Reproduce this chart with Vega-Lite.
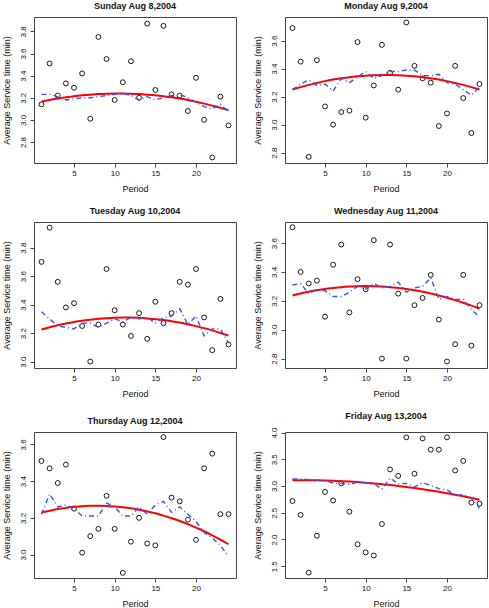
{
"$schema": "https://vega.github.io/schema/vega-lite/v6.json",
"padding": {"left": 1, "top": 1, "right": 0, "bottom": 0},
"background": "white",
"config": {
  "view": {"stroke": "#444", "strokeWidth": 1},
  "axis": {"grid": false, "domain": false, "tickColor": "#444", "tickSize": 4, "labelFont": "Liberation Sans", "labelFontSize": 8, "labelColor": "#111", "titleFont": "Liberation Sans", "titleFontSize": 9, "titleFontWeight": "normal", "titleColor": "#111"},
  "axisX": {"labelPadding": 2, "titlePadding": 7},
  "axisY": {"labelPadding": 3, "titlePadding": 8},
  "title": {"font": "Liberation Sans", "fontSize": 9, "fontWeight": "bold", "color": "#111", "offset": 6, "frame": "group"}
},
"data": {"values": [
{"day":"Sun","period":1,"value":3.14,"fit":3.166,"smooth":3.23},
{"day":"Sun","period":2,"value":3.51,"fit":3.180,"smooth":3.23},
{"day":"Sun","period":3,"value":3.22,"fit":3.193,"smooth":3.21},
{"day":"Sun","period":4,"value":3.33,"fit":3.204,"smooth":3.18},
{"day":"Sun","period":5,"value":3.29,"fit":3.214,"smooth":3.19},
{"day":"Sun","period":6,"value":3.42,"fit":3.222,"smooth":3.20},
{"day":"Sun","period":7,"value":3.01,"fit":3.228,"smooth":3.20},
{"day":"Sun","period":8,"value":3.75,"fit":3.233,"smooth":3.21},
{"day":"Sun","period":9,"value":3.55,"fit":3.236,"smooth":3.22},
{"day":"Sun","period":10,"value":3.18,"fit":3.238,"smooth":3.23},
{"day":"Sun","period":11,"value":3.34,"fit":3.238,"smooth":3.24},
{"day":"Sun","period":12,"value":3.53,"fit":3.236,"smooth":3.22},
{"day":"Sun","period":13,"value":3.20,"fit":3.233,"smooth":3.18},
{"day":"Sun","period":14,"value":3.87,"fit":3.228,"smooth":3.21},
{"day":"Sun","period":15,"value":3.27,"fit":3.222,"smooth":3.18},
{"day":"Sun","period":16,"value":3.85,"fit":3.214,"smooth":3.20},
{"day":"Sun","period":17,"value":3.23,"fit":3.204,"smooth":3.22},
{"day":"Sun","period":18,"value":3.22,"fit":3.193,"smooth":3.23},
{"day":"Sun","period":19,"value":3.08,"fit":3.180,"smooth":3.20},
{"day":"Sun","period":20,"value":3.38,"fit":3.163,"smooth":3.16},
{"day":"Sun","period":21,"value":3.00,"fit":3.147,"smooth":3.12},
{"day":"Sun","period":22,"value":2.66,"fit":3.129,"smooth":3.10},
{"day":"Sun","period":23,"value":3.21,"fit":3.110,"smooth":3.14},
{"day":"Sun","period":24,"value":2.95,"fit":3.088,"smooth":3.07},
{"day":"Mon","period":1,"value":3.69,"fit":3.251,"smooth":3.25},
{"day":"Mon","period":2,"value":3.45,"fit":3.268,"smooth":3.29},
{"day":"Mon","period":3,"value":2.77,"fit":3.284,"smooth":3.32},
{"day":"Mon","period":4,"value":3.46,"fit":3.298,"smooth":3.28},
{"day":"Mon","period":5,"value":3.13,"fit":3.311,"smooth":3.29},
{"day":"Mon","period":6,"value":3.00,"fit":3.322,"smooth":3.24},
{"day":"Mon","period":7,"value":3.09,"fit":3.331,"smooth":3.33},
{"day":"Mon","period":8,"value":3.10,"fit":3.339,"smooth":3.30},
{"day":"Mon","period":9,"value":3.59,"fit":3.345,"smooth":3.34},
{"day":"Mon","period":10,"value":3.05,"fit":3.350,"smooth":3.38},
{"day":"Mon","period":11,"value":3.28,"fit":3.353,"smooth":3.33},
{"day":"Mon","period":12,"value":3.57,"fit":3.355,"smooth":3.35},
{"day":"Mon","period":13,"value":3.37,"fit":3.355,"smooth":3.38},
{"day":"Mon","period":14,"value":3.25,"fit":3.353,"smooth":3.38},
{"day":"Mon","period":15,"value":3.73,"fit":3.350,"smooth":3.39},
{"day":"Mon","period":16,"value":3.42,"fit":3.345,"smooth":3.39},
{"day":"Mon","period":17,"value":3.33,"fit":3.339,"smooth":3.35},
{"day":"Mon","period":18,"value":3.30,"fit":3.331,"smooth":3.35},
{"day":"Mon","period":19,"value":2.99,"fit":3.322,"smooth":3.36},
{"day":"Mon","period":20,"value":3.08,"fit":3.311,"smooth":3.30},
{"day":"Mon","period":21,"value":3.42,"fit":3.298,"smooth":3.29},
{"day":"Mon","period":22,"value":3.19,"fit":3.284,"smooth":3.25},
{"day":"Mon","period":23,"value":2.94,"fit":3.268,"smooth":3.21},
{"day":"Mon","period":24,"value":3.29,"fit":3.251,"smooth":3.27},
{"day":"Tue","period":1,"value":3.70,"fit":3.225,"smooth":3.35},
{"day":"Tue","period":2,"value":3.94,"fit":3.241,"smooth":3.30},
{"day":"Tue","period":3,"value":3.56,"fit":3.255,"smooth":3.25},
{"day":"Tue","period":4,"value":3.38,"fit":3.267,"smooth":3.24},
{"day":"Tue","period":5,"value":3.41,"fit":3.278,"smooth":3.23},
{"day":"Tue","period":6,"value":3.25,"fit":3.287,"smooth":3.27},
{"day":"Tue","period":7,"value":3.00,"fit":3.294,"smooth":3.27},
{"day":"Tue","period":8,"value":3.26,"fit":3.300,"smooth":3.24},
{"day":"Tue","period":9,"value":3.65,"fit":3.305,"smooth":3.27},
{"day":"Tue","period":10,"value":3.36,"fit":3.308,"smooth":3.30},
{"day":"Tue","period":11,"value":3.26,"fit":3.309,"smooth":3.28},
{"day":"Tue","period":12,"value":3.18,"fit":3.309,"smooth":3.31},
{"day":"Tue","period":13,"value":3.34,"fit":3.307,"smooth":3.30},
{"day":"Tue","period":14,"value":3.16,"fit":3.303,"smooth":3.31},
{"day":"Tue","period":15,"value":3.42,"fit":3.298,"smooth":3.27},
{"day":"Tue","period":16,"value":3.27,"fit":3.292,"smooth":3.31},
{"day":"Tue","period":17,"value":3.34,"fit":3.283,"smooth":3.32},
{"day":"Tue","period":18,"value":3.56,"fit":3.274,"smooth":3.37},
{"day":"Tue","period":19,"value":3.54,"fit":3.262,"smooth":3.26},
{"day":"Tue","period":20,"value":3.65,"fit":3.249,"smooth":3.32},
{"day":"Tue","period":21,"value":3.31,"fit":3.235,"smooth":3.18},
{"day":"Tue","period":22,"value":3.08,"fit":3.219,"smooth":3.23},
{"day":"Tue","period":23,"value":3.44,"fit":3.201,"smooth":3.23},
{"day":"Tue","period":24,"value":3.12,"fit":3.182,"smooth":3.13},
{"day":"Wed","period":1,"value":3.71,"fit":3.237,"smooth":3.31},
{"day":"Wed","period":2,"value":3.40,"fit":3.251,"smooth":3.32},
{"day":"Wed","period":3,"value":3.32,"fit":3.263,"smooth":3.25},
{"day":"Wed","period":4,"value":3.34,"fit":3.273,"smooth":3.28},
{"day":"Wed","period":5,"value":3.09,"fit":3.282,"smooth":3.27},
{"day":"Wed","period":6,"value":3.45,"fit":3.289,"smooth":3.23},
{"day":"Wed","period":7,"value":3.59,"fit":3.295,"smooth":3.23},
{"day":"Wed","period":8,"value":3.12,"fit":3.299,"smooth":3.26},
{"day":"Wed","period":9,"value":3.35,"fit":3.301,"smooth":3.30},
{"day":"Wed","period":10,"value":3.28,"fit":3.302,"smooth":3.28},
{"day":"Wed","period":11,"value":3.62,"fit":3.301,"smooth":3.32},
{"day":"Wed","period":12,"value":2.80,"fit":3.299,"smooth":3.29},
{"day":"Wed","period":13,"value":3.59,"fit":3.295,"smooth":3.30},
{"day":"Wed","period":14,"value":3.25,"fit":3.289,"smooth":3.33},
{"day":"Wed","period":15,"value":2.80,"fit":3.282,"smooth":3.26},
{"day":"Wed","period":16,"value":3.17,"fit":3.273,"smooth":3.29},
{"day":"Wed","period":17,"value":3.22,"fit":3.263,"smooth":3.30},
{"day":"Wed","period":18,"value":3.38,"fit":3.251,"smooth":3.36},
{"day":"Wed","period":19,"value":3.07,"fit":3.237,"smooth":3.21},
{"day":"Wed","period":20,"value":2.78,"fit":3.222,"smooth":3.23},
{"day":"Wed","period":21,"value":2.90,"fit":3.205,"smooth":3.21},
{"day":"Wed","period":22,"value":3.38,"fit":3.187,"smooth":3.21},
{"day":"Wed","period":23,"value":2.89,"fit":3.167,"smooth":3.14},
{"day":"Wed","period":24,"value":3.17,"fit":3.145,"smooth":3.09},
{"day":"Thu","period":1,"value":3.51,"fit":3.229,"smooth":3.22},
{"day":"Thu","period":2,"value":3.47,"fit":3.239,"smooth":3.33},
{"day":"Thu","period":3,"value":3.39,"fit":3.248,"smooth":3.26},
{"day":"Thu","period":4,"value":3.49,"fit":3.254,"smooth":3.27},
{"day":"Thu","period":5,"value":3.25,"fit":3.260,"smooth":3.25},
{"day":"Thu","period":6,"value":3.01,"fit":3.263,"smooth":3.21},
{"day":"Thu","period":7,"value":3.10,"fit":3.266,"smooth":3.21},
{"day":"Thu","period":8,"value":3.14,"fit":3.266,"smooth":3.21},
{"day":"Thu","period":9,"value":3.32,"fit":3.265,"smooth":3.28},
{"day":"Thu","period":10,"value":3.14,"fit":3.262,"smooth":3.26},
{"day":"Thu","period":11,"value":2.90,"fit":3.258,"smooth":3.21},
{"day":"Thu","period":12,"value":3.07,"fit":3.252,"smooth":3.21},
{"day":"Thu","period":13,"value":3.20,"fit":3.244,"smooth":3.26},
{"day":"Thu","period":14,"value":3.06,"fit":3.235,"smooth":3.22},
{"day":"Thu","period":15,"value":3.05,"fit":3.225,"smooth":3.27},
{"day":"Thu","period":16,"value":3.64,"fit":3.212,"smooth":3.29},
{"day":"Thu","period":17,"value":3.31,"fit":3.198,"smooth":3.23},
{"day":"Thu","period":18,"value":3.29,"fit":3.183,"smooth":3.26},
{"day":"Thu","period":19,"value":3.19,"fit":3.166,"smooth":3.22},
{"day":"Thu","period":20,"value":3.08,"fit":3.147,"smooth":3.18},
{"day":"Thu","period":21,"value":3.47,"fit":3.127,"smooth":3.12},
{"day":"Thu","period":22,"value":3.55,"fit":3.105,"smooth":3.09},
{"day":"Thu","period":23,"value":3.22,"fit":3.081,"smooth":3.05},
{"day":"Thu","period":24,"value":3.22,"fit":3.056,"smooth":2.99},
{"day":"Fri","period":1,"value":2.72,"fit":3.109,"smooth":3.13},
{"day":"Fri","period":2,"value":2.46,"fit":3.110,"smooth":3.13},
{"day":"Fri","period":3,"value":1.38,"fit":3.109,"smooth":3.12},
{"day":"Fri","period":4,"value":2.07,"fit":3.107,"smooth":3.11},
{"day":"Fri","period":5,"value":2.89,"fit":3.103,"smooth":3.09},
{"day":"Fri","period":6,"value":2.73,"fit":3.098,"smooth":3.06},
{"day":"Fri","period":7,"value":3.05,"fit":3.091,"smooth":3.05},
{"day":"Fri","period":8,"value":2.52,"fit":3.083,"smooth":3.03},
{"day":"Fri","period":9,"value":1.91,"fit":3.073,"smooth":3.07},
{"day":"Fri","period":10,"value":1.76,"fit":3.062,"smooth":3.06},
{"day":"Fri","period":11,"value":1.70,"fit":3.049,"smooth":3.05},
{"day":"Fri","period":12,"value":2.29,"fit":3.034,"smooth":2.94},
{"day":"Fri","period":13,"value":3.31,"fit":3.019,"smooth":3.15},
{"day":"Fri","period":14,"value":3.19,"fit":3.001,"smooth":3.04},
{"day":"Fri","period":15,"value":3.91,"fit":2.982,"smooth":3.05},
{"day":"Fri","period":16,"value":3.23,"fit":2.962,"smooth":2.98},
{"day":"Fri","period":17,"value":3.89,"fit":2.940,"smooth":3.06},
{"day":"Fri","period":18,"value":3.68,"fit":2.917,"smooth":3.01},
{"day":"Fri","period":19,"value":3.68,"fit":2.892,"smooth":2.95},
{"day":"Fri","period":20,"value":3.91,"fit":2.865,"smooth":2.93},
{"day":"Fri","period":21,"value":3.29,"fit":2.837,"smooth":2.82},
{"day":"Fri","period":22,"value":3.47,"fit":2.808,"smooth":2.84},
{"day":"Fri","period":23,"value":2.69,"fit":2.777,"smooth":2.78},
{"day":"Fri","period":24,"value":2.67,"fit":2.744,"smooth":2.59}
]},
"columns": 2,
"spacing": {"row": 12, "column": 15},
"concat": [
{"title": "Sunday Aug 8,2004", "width": 202, "height": 146,
 "transform": [{"filter": "datum.day === 'Sun'"}],
 "encoding": {"x": {"field": "period", "type": "quantitative", "title": "Period", "scale": {"domain": [0.08, 24.92], "nice": false, "zero": false}, "axis": {"values": [5, 10, 15, 20], "labelOverlap": false, "labelFlush": false}}},
 "layer": [
  {"mark": {"type": "point", "shape": "circle", "filled": false, "color": "black", "size": 24, "strokeWidth": 0.9, "opacity": 1},
   "encoding": {"y": {"field": "value", "type": "quantitative", "title": "Average Service time (min)", "scale": {"domain": [2.61, 3.93], "nice": false, "zero": false}, "axis": {"values": [2.8, 3.0, 3.2, 3.4, 3.6, 3.8], "format": ".1f", "labelOverlap": false, "labelFlush": false, "labelAngle": -90, "labelAlign": "center", "labelBaseline": "bottom"}}}},
  {"mark": {"type": "line", "color": "#ff0000", "strokeWidth": 2, "interpolate": "monotone"},
   "encoding": {"y": {"field": "fit", "type": "quantitative", "title": "Average Service time (min)", "axis": {"values": [2.8, 3.0, 3.2, 3.4, 3.6, 3.8], "format": ".1f", "labelOverlap": false, "labelFlush": false, "labelAngle": -90, "labelAlign": "center", "labelBaseline": "bottom"}}}},
  {"mark": {"type": "line", "color": "#2f55ff", "strokeWidth": 1.4, "strokeDash": [5, 3, 1, 3]},
   "encoding": {"y": {"field": "smooth", "type": "quantitative", "title": "Average Service time (min)", "axis": {"values": [2.8, 3.0, 3.2, 3.4, 3.6, 3.8], "format": ".1f", "labelOverlap": false, "labelFlush": false, "labelAngle": -90, "labelAlign": "center", "labelBaseline": "bottom"}}}}
 ]},
{"title": "Monday Aug 9,2004", "width": 202, "height": 146,
 "transform": [{"filter": "datum.day === 'Mon'"}],
 "encoding": {"x": {"field": "period", "type": "quantitative", "title": "Period", "scale": {"domain": [0.08, 24.92], "nice": false, "zero": false}, "axis": {"values": [5, 10, 15, 20], "labelOverlap": false, "labelFlush": false}}},
 "layer": [
  {"mark": {"type": "point", "shape": "circle", "filled": false, "color": "black", "size": 24, "strokeWidth": 0.9, "opacity": 1},
   "encoding": {"y": {"field": "value", "type": "quantitative", "title": "Average Service time (min)", "scale": {"domain": [2.726, 3.769], "nice": false, "zero": false}, "axis": {"values": [2.8, 3.0, 3.2, 3.4, 3.6], "format": ".1f", "labelOverlap": false, "labelFlush": false, "labelAngle": -90, "labelAlign": "center", "labelBaseline": "bottom"}}}},
  {"mark": {"type": "line", "color": "#ff0000", "strokeWidth": 2, "interpolate": "monotone"},
   "encoding": {"y": {"field": "fit", "type": "quantitative", "title": "Average Service time (min)", "axis": {"values": [2.8, 3.0, 3.2, 3.4, 3.6], "format": ".1f", "labelOverlap": false, "labelFlush": false, "labelAngle": -90, "labelAlign": "center", "labelBaseline": "bottom"}}}},
  {"mark": {"type": "line", "color": "#2f55ff", "strokeWidth": 1.4, "strokeDash": [5, 3, 1, 3]},
   "encoding": {"y": {"field": "smooth", "type": "quantitative", "title": "Average Service time (min)", "axis": {"values": [2.8, 3.0, 3.2, 3.4, 3.6], "format": ".1f", "labelOverlap": false, "labelFlush": false, "labelAngle": -90, "labelAlign": "center", "labelBaseline": "bottom"}}}}
 ]},
{"title": "Tuesday Aug 10,2004", "width": 202, "height": 146,
 "transform": [{"filter": "datum.day === 'Tue'"}],
 "encoding": {"x": {"field": "period", "type": "quantitative", "title": "Period", "scale": {"domain": [0.08, 24.92], "nice": false, "zero": false}, "axis": {"values": [5, 10, 15, 20], "labelOverlap": false, "labelFlush": false}}},
 "layer": [
  {"mark": {"type": "point", "shape": "circle", "filled": false, "color": "black", "size": 24, "strokeWidth": 0.9, "opacity": 1},
   "encoding": {"y": {"field": "value", "type": "quantitative", "title": "Average Service time (min)", "scale": {"domain": [2.955, 3.98], "nice": false, "zero": false}, "axis": {"values": [3.0, 3.2, 3.4, 3.6, 3.8], "format": ".1f", "labelOverlap": false, "labelFlush": false, "labelAngle": -90, "labelAlign": "center", "labelBaseline": "bottom"}}}},
  {"mark": {"type": "line", "color": "#ff0000", "strokeWidth": 2, "interpolate": "monotone"},
   "encoding": {"y": {"field": "fit", "type": "quantitative", "title": "Average Service time (min)", "axis": {"values": [3.0, 3.2, 3.4, 3.6, 3.8], "format": ".1f", "labelOverlap": false, "labelFlush": false, "labelAngle": -90, "labelAlign": "center", "labelBaseline": "bottom"}}}},
  {"mark": {"type": "line", "color": "#2f55ff", "strokeWidth": 1.4, "strokeDash": [5, 3, 1, 3]},
   "encoding": {"y": {"field": "smooth", "type": "quantitative", "title": "Average Service time (min)", "axis": {"values": [3.0, 3.2, 3.4, 3.6, 3.8], "format": ".1f", "labelOverlap": false, "labelFlush": false, "labelAngle": -90, "labelAlign": "center", "labelBaseline": "bottom"}}}}
 ]},
{"title": "Wednesday Aug 11,2004", "width": 202, "height": 146,
 "transform": [{"filter": "datum.day === 'Wed'"}],
 "encoding": {"x": {"field": "period", "type": "quantitative", "title": "Period", "scale": {"domain": [0.08, 24.92], "nice": false, "zero": false}, "axis": {"values": [5, 10, 15, 20], "labelOverlap": false, "labelFlush": false}}},
 "layer": [
  {"mark": {"type": "point", "shape": "circle", "filled": false, "color": "black", "size": 24, "strokeWidth": 0.9, "opacity": 1},
   "encoding": {"y": {"field": "value", "type": "quantitative", "title": "Average Service time (min)", "scale": {"domain": [2.735, 3.746], "nice": false, "zero": false}, "axis": {"values": [2.8, 3.0, 3.2, 3.4, 3.6], "format": ".1f", "labelOverlap": false, "labelFlush": false, "labelAngle": -90, "labelAlign": "center", "labelBaseline": "bottom"}}}},
  {"mark": {"type": "line", "color": "#ff0000", "strokeWidth": 2, "interpolate": "monotone"},
   "encoding": {"y": {"field": "fit", "type": "quantitative", "title": "Average Service time (min)", "axis": {"values": [2.8, 3.0, 3.2, 3.4, 3.6], "format": ".1f", "labelOverlap": false, "labelFlush": false, "labelAngle": -90, "labelAlign": "center", "labelBaseline": "bottom"}}}},
  {"mark": {"type": "line", "color": "#2f55ff", "strokeWidth": 1.4, "strokeDash": [5, 3, 1, 3]},
   "encoding": {"y": {"field": "smooth", "type": "quantitative", "title": "Average Service time (min)", "axis": {"values": [2.8, 3.0, 3.2, 3.4, 3.6], "format": ".1f", "labelOverlap": false, "labelFlush": false, "labelAngle": -90, "labelAlign": "center", "labelBaseline": "bottom"}}}}
 ]},
{"title": "Thursday Aug 12,2004", "width": 202, "height": 146,
 "transform": [{"filter": "datum.day === 'Thu'"}],
 "encoding": {"x": {"field": "period", "type": "quantitative", "title": "Period", "scale": {"domain": [0.08, 24.92], "nice": false, "zero": false}, "axis": {"values": [5, 10, 15, 20], "labelOverlap": false, "labelFlush": false}}},
 "layer": [
  {"mark": {"type": "point", "shape": "circle", "filled": false, "color": "black", "size": 24, "strokeWidth": 0.9, "opacity": 1},
   "encoding": {"y": {"field": "value", "type": "quantitative", "title": "Average Service time (min)", "scale": {"domain": [2.872, 3.668], "nice": false, "zero": false}, "axis": {"values": [3.0, 3.2, 3.4, 3.6], "format": ".1f", "labelOverlap": false, "labelFlush": false, "labelAngle": -90, "labelAlign": "center", "labelBaseline": "bottom"}}}},
  {"mark": {"type": "line", "color": "#ff0000", "strokeWidth": 2, "interpolate": "monotone"},
   "encoding": {"y": {"field": "fit", "type": "quantitative", "title": "Average Service time (min)", "axis": {"values": [3.0, 3.2, 3.4, 3.6], "format": ".1f", "labelOverlap": false, "labelFlush": false, "labelAngle": -90, "labelAlign": "center", "labelBaseline": "bottom"}}}},
  {"mark": {"type": "line", "color": "#2f55ff", "strokeWidth": 1.4, "strokeDash": [5, 3, 1, 3]},
   "encoding": {"y": {"field": "smooth", "type": "quantitative", "title": "Average Service time (min)", "axis": {"values": [3.0, 3.2, 3.4, 3.6], "format": ".1f", "labelOverlap": false, "labelFlush": false, "labelAngle": -90, "labelAlign": "center", "labelBaseline": "bottom"}}}}
 ]},
{"title": "Friday Aug 13,2004", "width": 202, "height": 146,
 "transform": [{"filter": "datum.day === 'Fri'"}],
 "encoding": {"x": {"field": "period", "type": "quantitative", "title": "Period", "scale": {"domain": [0.08, 24.92], "nice": false, "zero": false}, "axis": {"values": [5, 10, 15, 20], "labelOverlap": false, "labelFlush": false}}},
 "layer": [
  {"mark": {"type": "point", "shape": "circle", "filled": false, "color": "black", "size": 24, "strokeWidth": 0.9, "opacity": 1},
   "encoding": {"y": {"field": "value", "type": "quantitative", "title": "Average Service time (min)", "scale": {"domain": [1.28, 4.01], "nice": false, "zero": false}, "axis": {"values": [1.5, 2.0, 2.5, 3.0, 3.5, 4.0], "format": ".1f", "labelOverlap": false, "labelFlush": false, "labelAngle": -90, "labelAlign": "center", "labelBaseline": "bottom"}}}},
  {"mark": {"type": "line", "color": "#ff0000", "strokeWidth": 2, "interpolate": "monotone"},
   "encoding": {"y": {"field": "fit", "type": "quantitative", "title": "Average Service time (min)", "axis": {"values": [1.5, 2.0, 2.5, 3.0, 3.5, 4.0], "format": ".1f", "labelOverlap": false, "labelFlush": false, "labelAngle": -90, "labelAlign": "center", "labelBaseline": "bottom"}}}},
  {"mark": {"type": "line", "color": "#2f55ff", "strokeWidth": 1.4, "strokeDash": [5, 3, 1, 3]},
   "encoding": {"y": {"field": "smooth", "type": "quantitative", "title": "Average Service time (min)", "axis": {"values": [1.5, 2.0, 2.5, 3.0, 3.5, 4.0], "format": ".1f", "labelOverlap": false, "labelFlush": false, "labelAngle": -90, "labelAlign": "center", "labelBaseline": "bottom"}}}}
 ]}
]
}
